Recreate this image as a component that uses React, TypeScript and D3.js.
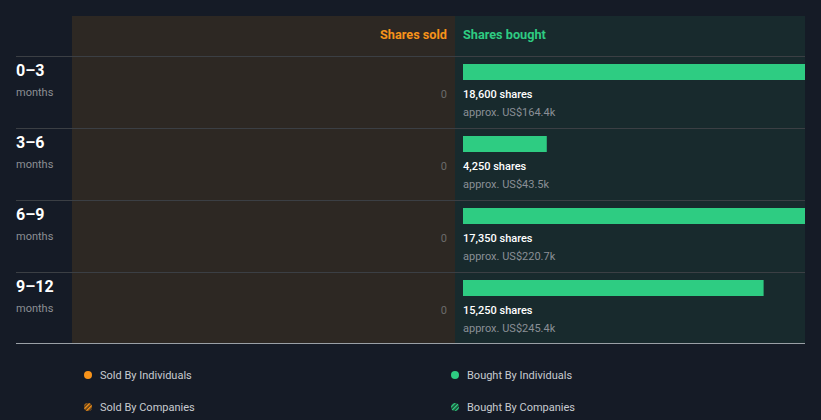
import React from "react";
import * as d3 from "d3";

const periods = ["0–3", "3–6", "6–9", "9–12"];
const periodUnit = ["months", "months", "months", "months"];
const sharesSold = [0, 0, 0, 0];
const sharesBought = [18600, 4250, 17350, 15250];
const boughtValue = ["US$164.4k", "US$43.5k", "US$220.7k", "US$245.4k"];
const scaleMax = [0, 17350];
const legendItems = [
  { label: "Sold By Individuals", kind: "sold", hatched: false },
  { label: "Bought By Individuals", kind: "bought", hatched: false },
  { label: "Sold By Companies", kind: "sold", hatched: true },
  { label: "Bought By Companies", kind: "bought", hatched: true },
];

const W = 821;
const H = 420;
const BG = "#151b26";
const ORANGE = "#f7931a";
const GREEN = "#2ecc82";
const FONT = "Roboto, 'Noto Sans', sans-serif";

export default function App() {
  const top = 16;
  const headerH = 40;
  const rowH = 72;
  const left = 16;
  const soldX0 = 72;
  const mid = 455;
  const right = 805;
  const barX0 = 463;
  const y = d3
    .scaleBand<number>()
    .domain(d3.range(periods.length))
    .range([top + headerH, top + headerH + rowH * periods.length]);
  const x = d3
    .scaleLinear()
    .domain(scaleMax)
    .range([0, right - barX0])
    .clamp(true);
  const bottom = top + headerH + rowH * periods.length - 1;
  const fmt = d3.format(",");

  return (
    <svg
      width={W}
      height={H}
      style={{ position: "absolute", left: 0, top: 0, background: BG }}
      fontFamily={FONT}
    >
      <defs>
        <pattern id="hatchO" patternUnits="userSpaceOnUse" width="3" height="3" patternTransform="rotate(45)">
          <rect width="3" height="3" fill="#4a3318" />
          <rect width="1.5" height="3" fill={ORANGE} />
        </pattern>
        <pattern id="hatchG" patternUnits="userSpaceOnUse" width="3" height="3" patternTransform="rotate(45)">
          <rect width="3" height="3" fill="#183a2c" />
          <rect width="1.5" height="3" fill={GREEN} />
        </pattern>
      </defs>
      <rect width={W} height={H} fill={BG} />
      <rect x={soldX0} y={top} width={mid - soldX0} height={bottom - top} fill="#2d2823" />
      <rect x={mid} y={top} width={right - mid} height={bottom - top} fill="#182a2d" />
      <text x={mid - 8} y={top + 23} textAnchor="end" fill={ORANGE} fontSize={12.7} fontWeight={700}>
        Shares sold
      </text>
      <text x={barX0} y={top + 23} fill={GREEN} fontSize={12.7} fontWeight={700}>
        Shares bought
      </text>
      {periods.map((p, i) => {
        const ry = y(i) as number;
        return (
          <g key={p}>
            <line x1={left} x2={right} y1={ry + 0.5} y2={ry + 0.5} stroke="#3b3f44" strokeWidth={1} />
            <text x={left} y={ry + 20} fill="#ffffff" fontSize={16} fontWeight={700}>
              {p}
            </text>
            <text x={left} y={ry + 40} fill="#8c8f94" fontSize={11}>
              {periodUnit[i]}
            </text>
            <text x={mid - 8} y={ry + 42} textAnchor="end" fill="#6b6b6b" fontSize={11}>
              {fmt(sharesSold[i])}
            </text>
            <rect x={barX0} y={ry + 8} width={x(sharesBought[i])} height={16} fill={GREEN} />
            <text x={barX0} y={ry + 42} fill="#ffffff" fontSize={11} fontWeight={500}>
              {fmt(sharesBought[i])} shares
            </text>
            <text x={barX0} y={ry + 60} fill="#8a8f96" fontSize={11}>
              approx. {boughtValue[i]}
            </text>
          </g>
        );
      })}
      <line x1={left} x2={right} y1={bottom + 0.5} y2={bottom + 0.5} stroke="#9aa0a6" strokeWidth={1} />
      {legendItems.map((it, i) => {
        const col = i % 2;
        const row = Math.floor(i / 2);
        const cx = col === 0 ? 88 : 455;
        const cy = 375 + row * 32;
        const fill = it.hatched
          ? it.kind === "sold"
            ? "url(#hatchO)"
            : "url(#hatchG)"
          : it.kind === "sold"
          ? ORANGE
          : GREEN;
        return (
          <g key={it.label}>
            <circle cx={cx} cy={cy} r={4} fill={fill} />
            <text x={cx + 12} y={cy + 4} fill="#c8cbd0" fontSize={11}>
              {it.label}
            </text>
          </g>
        );
      })}
    </svg>
  );
}
